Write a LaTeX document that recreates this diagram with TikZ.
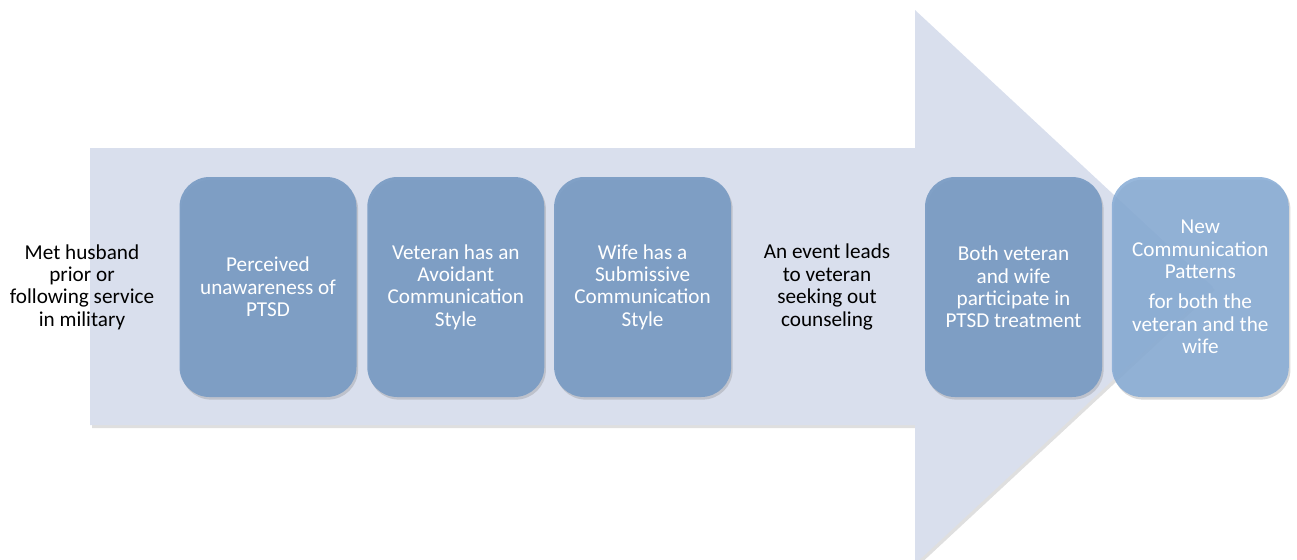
\documentclass[tikz,border=0pt]{standalone}
\usepackage{fontspec}
\setmainfont{Carlito}
\usetikzlibrary{positioning,shadows}

\definecolor{arrowfill}{HTML}{D9DFED}
\definecolor{stepfill}{HTML}{7A9CC4}
\definecolor{lastfill}{HTML}{86ABD5}

\begin{document}
\begin{tikzpicture}[x=0.5pt,y=-0.5pt,
			step node/.style={rectangle,rounded corners=15pt,fill=stepfill,fill opacity=0.93,text opacity=1,text=white,
				minimum width=88.5pt,minimum height=110pt,align=center,font=\fontsize{10.6}{11.2}\selectfont,
				drop shadow={opacity=0.3,shadow xshift=0.8pt,shadow yshift=-1.3pt}},
			last node/.style={step node,fill=lastfill,fill opacity=0.86},
			label node/.style={align=center,font=\fontsize{10.6}{11.2}\selectfont}
			]
			
			\def \ymid {287};
			
			\useasboundingbox (0,0) rectangle (1297,559);
			
			% big arrow in the back
			\path[fill=arrowfill,drop shadow={opacity=0.25,shadow xshift=1pt,shadow yshift=-1.5pt}]
				(90,148) -- (915,148) -- (915,10) -- (1213,\ymid) -- (915,564) -- (915,425) -- (90,425) -- cycle;
			
			\node[label node] at (82,\ymid) (met) {Met husband\\prior or\\following service\\in military};
			
			\node[step node] at (268,\ymid) (unaware) {Perceived\\unawareness of\\PTSD};
			\node[step node,right=5pt of unaware] (avoid) {Veteran has an\\Avoidant\\Communication\\Style};
			\node[step node,right=4.5pt of avoid] (submit) {Wife has a\\Submissive\\Communication\\Style};
			
			\node[label node] at (827,\ymid) (event) {An event leads\\to veteran\\seeking out\\counseling};
			
			\node[step node] at (1013.5,\ymid) (treat) {Both veteran\\and wife\\participate in\\PTSD treatment};
			\node[last node,right=4.5pt of treat] (new) {New\\Communication\\Patterns\\[4pt]for both the\\veteran and the\\wife};
			\end{tikzpicture}
\end{document}
